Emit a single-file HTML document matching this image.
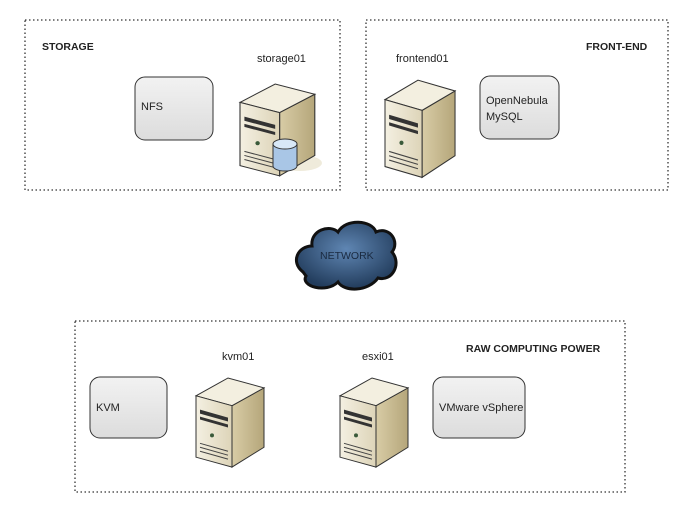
<!DOCTYPE html>
<html><head><style>
body{margin:0;background:#fff;width:694px;height:513px;overflow:hidden}
svg text{font-family:"Liberation Sans",Arial,sans-serif;font-size:11px;fill:#222}
.b{font-weight:bold;font-size:10.5px}
</style></head><body>
<svg width="694" height="513" viewBox="0 0 694 513">
<defs>
<linearGradient id="fr" x1="0" x2="1"><stop offset="0" stop-color="#f4f0e2"/><stop offset="1" stop-color="#ddd4b8"/></linearGradient>
<linearGradient id="sd" x1="0" x2="1"><stop offset="0" stop-color="#d8cca6"/><stop offset="1" stop-color="#b5a67a"/></linearGradient>
<linearGradient id="bx" x1="0" y1="0" x2="0" y2="1"><stop offset="0" stop-color="#f2f2f2"/><stop offset="1" stop-color="#dcdcdc"/></linearGradient>
<radialGradient id="cl" cx="0.5" cy="0.4" r="0.6"><stop offset="0" stop-color="#5f86b3"/><stop offset="1" stop-color="#223c5c"/></radialGradient>
<g id="srv">
<polygon points="36,30 68,12 68,72 36,92" fill="url(#sd)" stroke="#333" stroke-width="1"/>
<polygon points="0,20 32,2 68,12 36,30" fill="#f3efe0" stroke="#333" stroke-width="1"/>
<polygon points="0,20 36,30 36,92 0,82" fill="url(#fr)" stroke="#333" stroke-width="1"/>
<polygon points="4,34 32,42 32,46 4,38" fill="#333"/>
<polygon points="4,41 32,49 32,52 4,44" fill="#333"/>
<circle cx="16" cy="60" r="2" fill="#3a5a3a"/>
<path d="M4,68 L32,76 M4,72 L32,80 M4,76 L32,84" stroke="#444" stroke-width="1"/>
</g>
</defs>
<g fill="none" stroke="#333" stroke-width="1.3" stroke-dasharray="1.5 2.5">
<rect x="25" y="20" width="315" height="170"/>
<rect x="366" y="20" width="302" height="170"/>
<rect x="75" y="321" width="550" height="171"/>
</g>
<text x="42" y="50" class="b">STORAGE</text>
<text x="586" y="50" class="b">FRONT-END</text>
<text x="466" y="352" class="b">RAW COMPUTING POWER</text>

<rect x="135" y="77" width="78" height="63" rx="10" fill="url(#bx)" stroke="#333"/>
<text x="141" y="110">NFS</text>
<rect x="480" y="76" width="79" height="63" rx="10" fill="url(#bx)" stroke="#333"/>
<text x="486" y="104">OpenNebula</text>
<text x="486" y="120">MySQL</text>
<rect x="90" y="377" width="77" height="61" rx="10" fill="url(#bx)" stroke="#333"/>
<text x="96" y="411">KVM</text>
<rect x="433" y="377" width="92" height="61" rx="10" fill="url(#bx)" stroke="#333"/>
<text x="439" y="411">VMware vSphere</text>

<text x="257" y="62">storage01</text>
<ellipse cx="300" cy="163" rx="22" ry="8" fill="#e8e2cc" opacity="0.7"/>
<use href="#srv" transform="translate(240,82) scale(1.1,1.02)"/>
<path d="M273,144 v22 a12,5 0 0 0 24,0 v-22" fill="#a9c6e6" stroke="#333"/>
<ellipse cx="285" cy="144" rx="12" ry="5" fill="#d8e8f7" stroke="#333"/>

<text x="396" y="62">frontend01</text>
<use href="#srv" transform="translate(385,78) scale(1.03,1.08)"/>

<text x="222" y="360">kvm01</text>
<use href="#srv" transform="translate(196,376) scale(1,0.99)"/>
<text x="362" y="360">esxi01</text>
<use href="#srv" transform="translate(340,376) scale(1,0.99)"/>

<path d="M303,272 C290,262 298,246 312,246 C310,230 330,224 338,232 C346,218 372,220 376,232 C390,226 400,242 392,252 C402,264 392,282 378,278 C368,292 344,292 338,282 C326,294 300,286 306,276 Z" fill="url(#cl)" stroke="#111" stroke-width="3"/>
<text x="320" y="259" style="font-size:10.5px;fill:#1a2a40">NETWORK</text>
</svg>
</body></html>
